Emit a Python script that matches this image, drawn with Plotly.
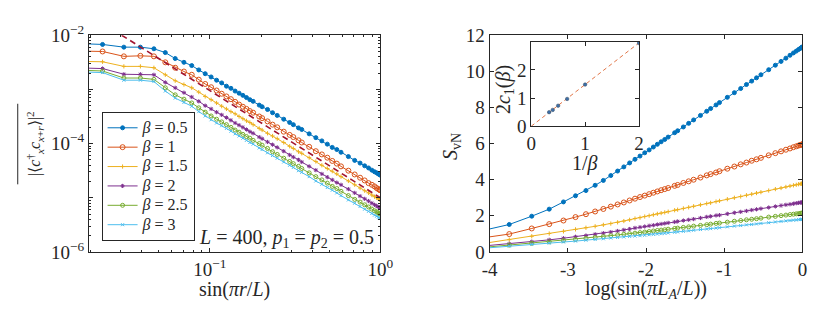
import numpy as np
import plotly.graph_objects as go

W, H = 834, 325
L_SYS = 400

# separation r (left panel) / subsystem size L_A (right panel)
r_vals = [2, 3, 4, 5, 6, 7, 8, 9, 10, 11, 12, 13, 14, 15, 16, 17, 18, 19, 20, 21, 22, 23,
          25, 26, 28, 30, 32, 35, 38, 40, 43, 45, 50, 55, 60, 65, 70, 75, 80,
          90, 100, 110, 120, 130, 140, 150, 160, 170, 180, 190, 200]

betas = ["0.5", "1", "1.5", "2", "2.5", "3"]

# log10 of averaged squared correlation (left panel)
corr_log10_b05 = [-2.15, -2.17, -2.22, -2.22, -2.25, -2.32, -2.43, -2.50, -2.56, -2.64, -2.71,
                  -2.77, -2.83, -2.88, -2.94, -2.98, -3.03, -3.07, -3.11, -3.15, -3.19, -3.22,
                  -3.29, -3.32, -3.37, -3.43, -3.48, -3.55, -3.61, -3.65, -3.71, -3.74, -3.82,
                  -3.89, -3.95, -4.01, -4.07, -4.11, -4.16,
                  -4.24, -4.31, -4.36, -4.41, -4.45, -4.49, -4.52, -4.54, -4.56, -4.57, -4.58, -4.58]
corr_log10_b1 = [-2.29, -2.30, -2.39, -2.38, -2.39, -2.50, -2.60, -2.67, -2.73, -2.82, -2.90,
                 -2.96, -3.02, -3.08, -3.13, -3.18, -3.23, -3.28, -3.32, -3.36, -3.40, -3.43,
                 -3.50, -3.53, -3.59, -3.65, -3.70, -3.78, -3.84, -3.88, -3.94, -3.98, -4.06,
                 -4.14, -4.20, -4.26, -4.32, -4.37, -4.42,
                 -4.50, -4.57, -4.63, -4.68, -4.73, -4.76, -4.79, -4.82, -4.84, -4.85, -4.86, -4.86]
corr_log10_b15 = [-2.48, -2.49, -2.575, -2.575, -2.60, -2.73, -2.84, -2.91, -2.97, -3.05, -3.13,
                  -3.19, -3.25, -3.31, -3.36, -3.41, -3.45, -3.50, -3.54, -3.58, -3.61, -3.65,
                  -3.72, -3.75, -3.81, -3.86, -3.91, -3.98, -4.05, -4.09, -4.15, -4.18, -4.26,
                  -4.33, -4.40, -4.46, -4.51, -4.56, -4.61,
                  -4.69, -4.76, -4.82, -4.87, -4.91, -4.95, -4.98, -5.00, -5.02, -5.03, -5.04, -5.04]
corr_log10_b2 = [-2.60, -2.615, -2.72, -2.72, -2.73, -2.87, -2.97, -3.06, -3.14, -3.22, -3.30,
                 -3.36, -3.42, -3.47, -3.52, -3.57, -3.62, -3.66, -3.70, -3.74, -3.78, -3.81,
                 -3.88, -3.91, -3.97, -4.02, -4.07, -4.14, -4.21, -4.25, -4.30, -4.34, -4.42,
                 -4.49, -4.56, -4.62, -4.67, -4.72, -4.76,
                 -4.84, -4.91, -4.97, -5.02, -5.06, -5.10, -5.13, -5.15, -5.17, -5.18, -5.19, -5.19]
corr_log10_b25 = [-2.64, -2.66, -2.79, -2.79, -2.815, -2.97, -3.10, -3.18, -3.25, -3.34, -3.42,
                  -3.49, -3.55, -3.60, -3.65, -3.70, -3.75, -3.79, -3.83, -3.87, -3.90, -3.94,
                  -4.00, -4.03, -4.09, -4.15, -4.20, -4.27, -4.33, -4.37, -4.42, -4.46, -4.54,
                  -4.61, -4.67, -4.73, -4.79, -4.83, -4.88,
                  -4.96, -5.03, -5.08, -5.13, -5.17, -5.21, -5.24, -5.26, -5.28, -5.29, -5.30, -5.30]
corr_log10_b3 = [-2.67, -2.69, -2.83, -2.83, -2.855, -3.03, -3.16, -3.24, -3.31, -3.41, -3.49,
                 -3.56, -3.62, -3.67, -3.72, -3.77, -3.82, -3.86, -3.90, -3.94, -3.98, -4.01,
                 -4.08, -4.11, -4.17, -4.22, -4.27, -4.34, -4.40, -4.44, -4.50, -4.53, -4.61,
                 -4.69, -4.75, -4.81, -4.86, -4.91, -4.96,
                 -5.04, -5.10, -5.16, -5.21, -5.25, -5.29, -5.32, -5.34, -5.36, -5.37, -5.38, -5.38]

# reference power-law guide (dashed)
guide_x = [0.0305, 1.0]
guide_y = [1e-2, 1e-5]

# entanglement entropy (right panel)
svn_b05 = [1.12, 1.52, 1.98, 2.37, 2.77, 3.11, 3.40, 3.69, 3.96, 4.23, 4.48,
           4.71, 4.93, 5.13, 5.31, 5.49, 5.65, 5.81, 5.96, 6.10, 6.23, 6.36,
           6.60, 6.71, 6.92, 7.12, 7.31, 7.56, 7.79, 7.94, 8.14, 8.27, 8.56,
           8.82, 9.05, 9.27, 9.46, 9.64, 9.81,
           10.09, 10.34, 10.55, 10.73, 10.89, 11.02, 11.12, 11.21, 11.27, 11.32, 11.34, 11.35]
svn_b1 = [0.74, 0.99, 1.30, 1.54, 1.74, 1.93, 2.09, 2.24, 2.38, 2.51, 2.63,
          2.74, 2.85, 2.95, 3.04, 3.12, 3.20, 3.28, 3.35, 3.42, 3.48, 3.54,
          3.66, 3.71, 3.82, 3.91, 4.00, 4.12, 4.24, 4.31, 4.40, 4.47, 4.61,
          4.73, 4.85, 4.95, 5.05, 5.13, 5.21,
          5.35, 5.47, 5.57, 5.66, 5.73, 5.80, 5.85, 5.89, 5.92, 5.94, 5.96, 5.96]
svn_b15 = [0.42, 0.68, 0.87, 1.02, 1.14, 1.25, 1.34, 1.42, 1.50, 1.57, 1.64,
           1.71, 1.78, 1.85, 1.90, 1.96, 2.01, 2.06, 2.11, 2.15, 2.19, 2.23,
           2.31, 2.34, 2.41, 2.47, 2.53, 2.61, 2.68, 2.72, 2.79, 2.83, 2.92,
           3.00, 3.07, 3.14, 3.20, 3.26, 3.31,
           3.40, 3.48, 3.54, 3.60, 3.65, 3.69, 3.72, 3.75, 3.77, 3.78, 3.79, 3.79]
svn_b2 = [0.30, 0.45, 0.57, 0.67, 0.76, 0.84, 0.91, 0.98, 1.04, 1.10, 1.16,
          1.22, 1.27, 1.33, 1.37, 1.41, 1.45, 1.48, 1.52, 1.55, 1.58, 1.61,
          1.66, 1.69, 1.74, 1.78, 1.82, 1.88, 1.94, 1.97, 2.02, 2.04, 2.11,
          2.17, 2.22, 2.27, 2.32, 2.36, 2.40,
          2.46, 2.52, 2.57, 2.61, 2.64, 2.67, 2.70, 2.72, 2.73, 2.74, 2.75, 2.75]
svn_b25 = [0.22, 0.38, 0.48, 0.56, 0.63, 0.69, 0.75, 0.80, 0.85, 0.90, 0.94,
           0.98, 1.01, 1.04, 1.07, 1.10, 1.13, 1.16, 1.19, 1.21, 1.23, 1.26,
           1.30, 1.32, 1.36, 1.39, 1.43, 1.47, 1.51, 1.54, 1.58, 1.60, 1.65,
           1.70, 1.74, 1.78, 1.81, 1.84, 1.87,
           1.93, 1.97, 2.01, 2.04, 2.07, 2.09, 2.11, 2.12, 2.14, 2.14, 2.15, 2.15]
svn_b3 = [0.18, 0.33, 0.42, 0.49, 0.55, 0.60, 0.65, 0.69, 0.73, 0.77, 0.80,
          0.83, 0.86, 0.88, 0.90, 0.92, 0.95, 0.97, 0.99, 1.01, 1.03, 1.05,
          1.09, 1.11, 1.14, 1.17, 1.20, 1.24, 1.27, 1.29, 1.32, 1.34, 1.39,
          1.43, 1.46, 1.50, 1.52, 1.55, 1.58,
          1.62, 1.66, 1.69, 1.72, 1.74, 1.76, 1.77, 1.79, 1.80, 1.80, 1.81, 1.81]

# inset
inv_beta = [2.0, 1.0, 0.667, 0.5, 0.4, 0.333]
two_c1 = [2.95, 1.48, 0.97, 0.73, 0.58, 0.50]
fit_x = [0.0, 2.0]
fit_y = [0.0, 2.96]

colors = ["#0072BD", "#D95319", "#EDB120", "#7E2F8E", "#77AC30", "#4DBEEE"]
markers = [dict(symbol="circle", size=4),
           dict(symbol="circle-open", size=5),
           dict(symbol="cross-thin-open", size=3),
           dict(symbol="asterisk-open", size=3.5),
           dict(symbol="circle-open", size=4),
           dict(symbol="x-thin-open", size=3)]

corr_all = [corr_log10_b05, corr_log10_b1, corr_log10_b15, corr_log10_b2, corr_log10_b25, corr_log10_b3]
svn_all = [svn_b05, svn_b1, svn_b15, svn_b2, svn_b25, svn_b3]
for s in corr_all + svn_all:
    if len(s) != len(r_vals):
        raise ValueError("length mismatch %d" % len(s))

r = np.array(r_vals, dtype=float)
xs_left = np.sin(np.pi * r / L_SYS)
xs_right = np.log(np.sin(np.pi * r / L_SYS))

FONT = "Liberation Serif"
AX = "#262626"

fig = go.Figure()
for i, b in enumerate(betas):
    m = dict(markers[i])
    m["color"] = colors[i]
    m["line"] = dict(color=colors[i], width=1)
    fig.add_trace(go.Scatter(x=xs_left, y=10 ** np.array(corr_all[i]), mode="lines+markers",
                             name='<span style="font-size:16px"><i>β</i> = ' + b + '</span>',
                             line=dict(color=colors[i], width=1),
                             marker=m, xaxis="x", yaxis="y"))
fig.add_trace(go.Scatter(x=guide_x, y=guide_y, mode="lines", showlegend=False,
                         line=dict(color="#A2142F", width=1.6, dash="6px,4px"),
                         xaxis="x", yaxis="y"))
for i, b in enumerate(betas):
    m = dict(markers[i])
    m["color"] = colors[i]
    m["line"] = dict(color=colors[i], width=1)
    fig.add_trace(go.Scatter(x=xs_right, y=svn_all[i], mode="lines+markers", showlegend=False,
                             line=dict(color=colors[i], width=1), marker=m,
                             xaxis="x2", yaxis="y2"))
fig.add_trace(go.Scatter(x=fit_x, y=fit_y, mode="lines", showlegend=False,
                         line=dict(color="#D95319", width=0.8, dash="4px,3px"),
                         xaxis="x3", yaxis="y3"))
fig.add_trace(go.Scatter(x=inv_beta, y=two_c1, mode="markers", showlegend=False,
                         marker=dict(color="#3D6FA8", size=3.5, line=dict(color="#34495E", width=0.5)),
                         xaxis="x3", yaxis="y3"))

def px(x):
    return x / W

def py(y):
    return 1 - y / H

tickfont = dict(family=FONT, size=19, color=AX)
common = dict(showline=True, linecolor=AX, linewidth=1, mirror="ticks", ticks="inside",
              tickcolor=AX, ticklen=4, showgrid=False, zeroline=False, tickfont=tickfont)

minor_x = [k * 10.0 ** e for e in (-2, -1) for k in range(2, 10)]
minor_y = [k * 10.0 ** e for e in (-6, -5, -4, -3) for k in range(2, 10)]

fig.update_layout(
    width=W, height=H, margin=dict(l=0, r=0, t=0, b=0),
    paper_bgcolor="white", plot_bgcolor="white",
    font=dict(family=FONT, color=AX),
    xaxis=dict(type="log", domain=[px(83), px(382)], range=[np.log10(0.0196), 0], anchor="y",
               tickvals=[0.01, 0.1, 1], ticktext=["", "10<sup>−1</sup>", "10<sup>0</sup>"],
               minor=dict(tickvals=minor_x, ticks="inside", ticklen=2, tickcolor=AX),
               **common),
    yaxis=dict(type="log", domain=[py(258), py(24)], range=[-6, -2], anchor="x",
               tickvals=[1e-6, 1e-5, 1e-4, 1e-3, 1e-2],
               ticktext=["10<sup>−6</sup>", "", "10<sup>−4</sup>", "", "10<sup>−2</sup>"],
               minor=dict(tickvals=minor_y, ticks="inside", ticklen=2, tickcolor=AX),
               **common),
    xaxis2=dict(domain=[px(494), px(815)], range=[-4, 0], anchor="y2",
                tickvals=[-4, -3, -2, -1, 0], ticktext=["-4", "-3", "-2", "-1", "0"], **common),
    yaxis2=dict(domain=[py(258), py(24)], range=[0, 12], anchor="x2",
                tickvals=[0, 2, 4, 6, 8, 10, 12], **common),
    xaxis3=dict(domain=[px(536.7), px(647.3)], range=[0, 2], anchor="y3",
                tickvals=[0, 1, 2], **common),
    yaxis3=dict(domain=[py(122.3), py(31)], range=[0, 3], anchor="x3",
                tickvals=[0, 1, 2], **common),
    legend=dict(x=px(96), y=py(107), xanchor="left", yanchor="top",
                bordercolor=AX, borderwidth=1, bgcolor="white",
                font=dict(family=FONT, size=12.6, color=AX), itemwidth=30, tracegroupgap=0),
)

lab = dict(family=FONT, size=20, color=AX)
ann = [
    dict(x=px(232), y=py(299), text="sin(<i>πr</i>/<i>L</i>)"),
    dict(x=px(654), y=py(299), text="log(sin(<i>πL</i><sub><i>A</i></sub>/<i>L</i>))"),
    dict(x=px(27), y=py(141), text="|⟨<i>c</i><sup>†</sup><sub><i>x</i></sub><i>c</i><sub><i>x</i>+<i>r</i></sub>⟩|<sup>2</sup>",
         textangle=-90, font=dict(family=FONT, size=16, color=AX)),
    dict(x=px(455), y=py(144), text="<i>S</i><sub>vN</sub>", textangle=-90),
    dict(x=px(510), y=py(83), text="2<i>c</i><sub>1</sub>(<i>β</i>)", textangle=-90),
    dict(x=px(592), y=py(163), text="1/<i>β</i>"),
]
annotations = []
for a in ann:
    d = dict(xref="paper", yref="paper", showarrow=False, font=lab, xanchor="center", yanchor="middle")
    d.update(a)
    annotations.append(d)
annotations.append(dict(xref="paper", yref="paper", showarrow=False, font=lab,
                        x=px(378), y=py(243), xanchor="right", yanchor="middle",
                        text="<i>L</i> = 400, <i>p</i><sub>1</sub> = <i>p</i><sub>2</sub> = 0.5"))
fig.update_layout(annotations=annotations)
fig.add_shape(type="line", xref="paper", yref="paper", x0=px(10), x1=px(10), y0=py(98), y1=py(185),
              line=dict(color=AX, width=1))

fig.write_html("out.html")
